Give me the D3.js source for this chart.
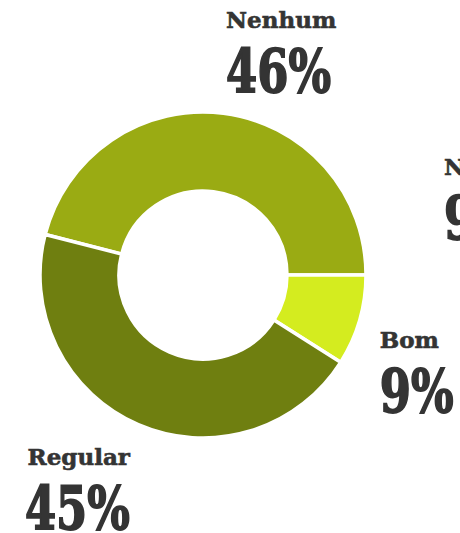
<!DOCTYPE html>
<html>
<head>
<meta charset="utf-8">
<script src="https://cdn.jsdelivr.net/npm/d3@7"></script>
<style>
  body { margin: 0; background: #fff; overflow: hidden; }
  text { font-family: "DejaVu Serif", serif; font-weight: bold; fill: #343434; stroke: #343434; }
</style>
</head>
<body>
<div id="chart"></div>
<script>
// data
const categories = ["Nenhum", "Bom", "Regular"];
const values = [46, 9, 45];
const colors = ["#9aab13", "#d4ec1f", "#6f7f10"];
// clipped label of a neighbouring chart on the right edge
const strayLabel = ["N", "9%"];

const width = 460;
const height = 533;
const cx = 203, cy = 275;
const outer = 163, inner = 84;
const labelRadius = 184;

const svg = d3.select("#chart").append("svg")
  .attr("width", width)
  .attr("height", height);

const g = svg.append("g").attr("transform", "translate(" + cx + "," + cy + ")");

const data = categories.map((c, i) => ({ name: c, value: values[i], color: colors[i] }));
const total = d3.sum(values);

const start = Math.PI / 2 - values[0] / total * 2 * Math.PI;
const pie = d3.pie().value(d => d.value).sort(null)
  .startAngle(start).endAngle(start + 2 * Math.PI);

const arc = d3.arc().innerRadius(inner).outerRadius(outer);
const labelArc = d3.arc().innerRadius(labelRadius).outerRadius(labelRadius);

g.selectAll(".slice")
  .data(pie(data))
  .enter().append("path")
  .attr("class", "slice")
  .attr("d", arc)
  .attr("fill", d => d.data.color)
  .attr("stroke", "#fff")
  .attr("stroke-width", 3.5);

// squeeze the wide fallback serif for the big numbers
const squeeze = (sel, k) => sel.each(function () {
  const w = this.getComputedTextLength();
  d3.select(this).attr("textLength", w * k).attr("lengthAdjust", "spacingAndGlyphs");
});

const labels = g.selectAll(".lbl")
  .data(pie(data))
  .enter().append("g")
  .attr("class", "lbl")
  .attr("transform", d => {
    const p = labelArc.centroid(d);
    return "translate(" + p + ")";
  });

labels.each(function (d) {
  const p = labelArc.centroid(d);
  const anchor = p[0] >= 0 ? "start" : "end";
  const top = p[1] >= 0 ? 0 : -86;
  const el = d3.select(this);
  el.append("text")
    .attr("text-anchor", anchor)
    .attr("y", top + 21.5)
    .style("font-size", "23px")
    .style("stroke-width", "0.6px")
    .text(d.data.name);
  el.append("text")
    .attr("text-anchor", anchor)
    .attr("y", top + 85.5)
    .style("font-size", "59px")
    .style("stroke-width", "1.8px")
    .text(Math.round(d.data.value / total * 100) + "%")
    .call(squeeze, 0.76);
});

const stray = svg.append("g").attr("transform", "translate(444,153)");
stray.append("text").attr("y", 22).style("font-size", "23px").style("stroke-width", "0.6px").text(strayLabel[0]);
stray.append("text").attr("y", 86).style("font-size", "59px").style("stroke-width", "1.8px").text(strayLabel[1]).call(squeeze, 0.76);
</script>
</body>
</html>
